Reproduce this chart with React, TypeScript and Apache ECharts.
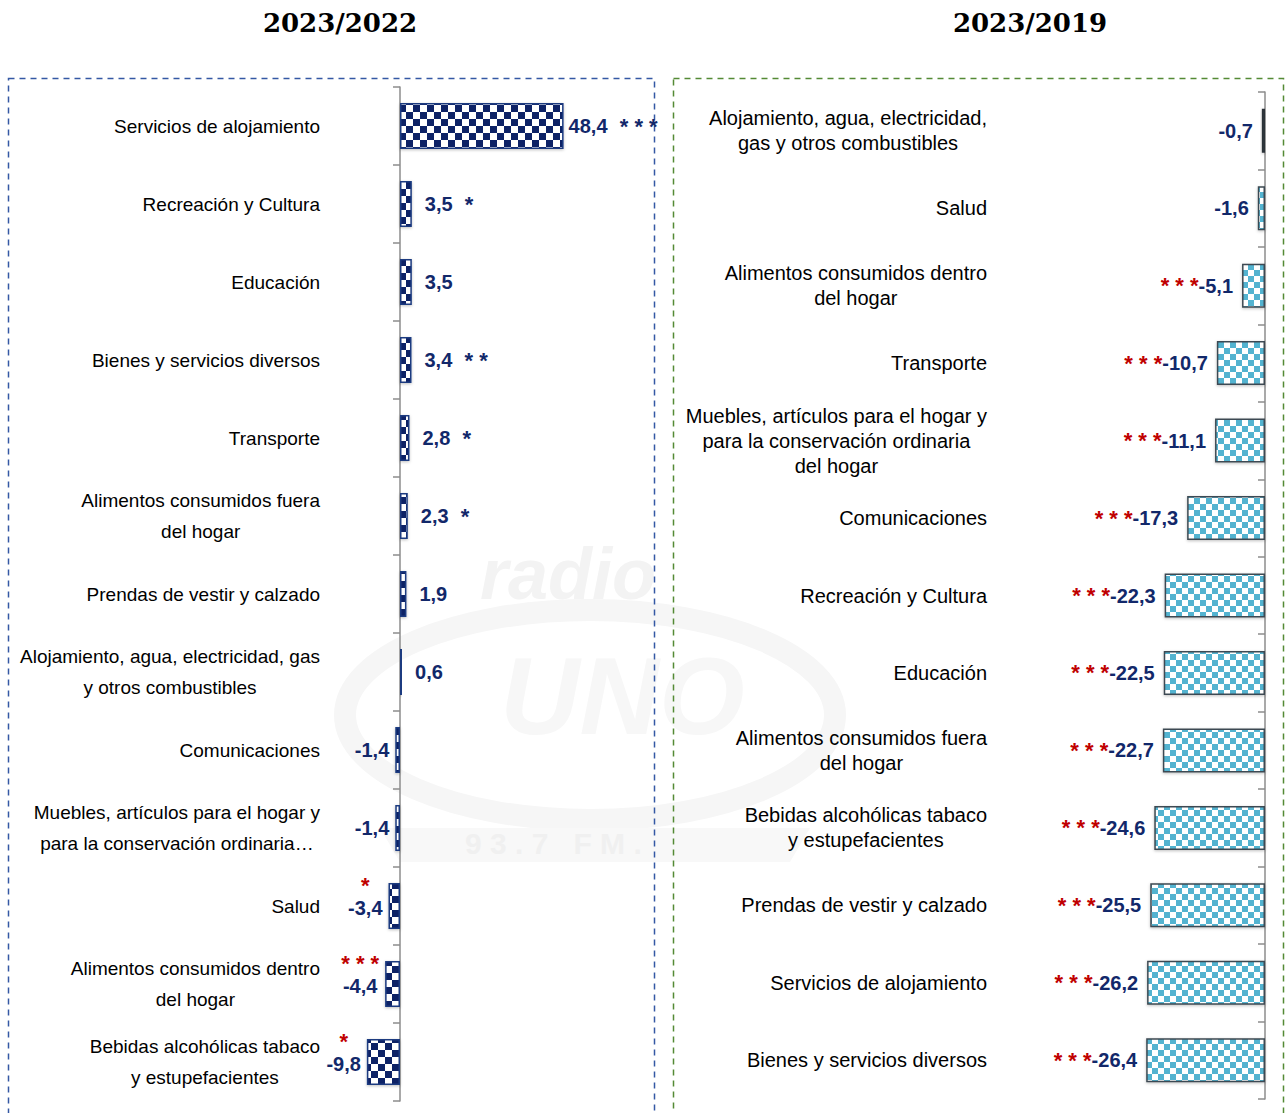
import React, { useEffect, useRef } from "react";
import * as echarts from "echarts";

// ---- Data: 2023/2022 (left panel) ----
const leftCategories = [
  "Servicios de alojamiento",
  "Recreación y Cultura",
  "Educación",
  "Bienes y servicios diversos",
  "Transporte",
  "Alimentos consumidos fuera\ndel hogar",
  "Prendas de vestir y calzado",
  "Alojamiento, agua, electricidad, gas\ny otros combustibles",
  "Comunicaciones",
  "Muebles, artículos para el hogar y\npara la conservación ordinaria…",
  "Salud",
  "Alimentos consumidos dentro\ndel hogar",
  "Bebidas alcohólicas tabaco\ny estupefacientes",
];
const leftValues = [48.4, 3.5, 3.5, 3.4, 2.8, 2.3, 1.9, 0.6, -1.4, -1.4, -3.4, -4.4, -9.8];
const leftStars = ["***", "*", "", "**", "*", "*", "", "", "", "", "*", "***", "*"];

// ---- Data: 2023/2019 (right panel) ----
const rightCategories = [
  "Alojamiento, agua, electricidad,\ngas y otros combustibles",
  "Salud",
  "Alimentos consumidos dentro\ndel hogar",
  "Transporte",
  "Muebles, artículos para el hogar y\npara la conservación ordinaria\ndel hogar",
  "Comunicaciones",
  "Recreación y Cultura",
  "Educación",
  "Alimentos consumidos fuera\ndel hogar",
  "Bebidas alcohólicas tabaco\ny estupefacientes",
  "Prendas de vestir y calzado",
  "Servicios de alojamiento",
  "Bienes y servicios diversos",
];
const rightValues = [-0.7, -1.6, -5.1, -10.7, -11.1, -17.3, -22.3, -22.5, -22.7, -24.6, -25.5, -26.2, -26.4];
const rightStars = ["", "", "***", "***", "***", "***", "***", "***", "***", "***", "***", "***", "***"];

const titles = ["2023/2022", "2023/2019"];

const NAVY = "#12286a";
const RED = "#c00000";
const SANS = "'Liberation Sans', Arial, sans-serif";

function checker(cell: number, dark: string, light: string) {
  const c = document.createElement("canvas");
  c.width = cell * 2;
  c.height = cell * 2;
  const ctx = c.getContext("2d")!;
  ctx.fillStyle = light;
  ctx.fillRect(0, 0, cell * 2, cell * 2);
  ctx.fillStyle = dark;
  ctx.fillRect(0, 0, cell, cell);
  ctx.fillRect(cell, cell, cell, cell);
  return { image: c, repeat: "repeat", imageWidth: cell * 2, imageHeight: cell * 2 } as any;
}

const fmt = (v: number) => v.toFixed(1).replace(".", ",");
const spaced = (s: string) => s.split("").join(" ");

// grid geometry
const L_LEFT = 366.2;
const L_WIDTH = 202.8;
const R_LEFT = 1130;
const R_WIDTH = 135;

export default function App() {
  const ref = useRef<HTMLDivElement>(null);

  useEffect(() => {
    const chart = echarts.init(ref.current!, null, { renderer: "svg" });

    const navyPattern = checker(7, "#0d2466", "#ffffff");
    const bluePattern = checker(6, "#52b3d0", "#ffffff");

    const leftData = leftValues.map((v, i) => {
      const st = leftStars[i];
      if (v >= 0) {
        return {
          value: v,
          label: {
            position: "right",
            distance: v > 40 ? 5 : 13,
            formatter: st ? `{v|${fmt(v)}}{s|  ${spaced(st)}}` : `{v|${fmt(v)}}`,
          },
        };
      }
      return {
        value: v,
        label: {
          position: "left",
          distance: 6,
          offset: st ? [0, -9] : [0, 0],
          formatter: st ? `{r|${spaced(st)}}\n{v|${fmt(v)}}` : `{v|${fmt(v)}}`,
        },
      };
    });

    const rightData = rightValues.map((v, i) => {
      const st = rightStars[i];
      return {
        value: v,
        itemStyle: i === 0 ? { color: "#3b444c", borderColor: "#2c3238" } : undefined,
        label: {
          position: "left",
          distance: 9,
          formatter: st ? `{r|${spaced(st)}}{v|${fmt(v)}}` : `{v|${fmt(v)}}`,
        },
      };
    });

    const catFormatter = (val: string) =>
      val
        .split("\n")
        .map((l) => `{c|${l}}`)
        .join("\n");

    const titleStyle = { fontFamily: "'DejaVu Serif', serif", fontWeight: "bold", fontSize: 26, color: "#000" };

    const option: any = {
      animation: false,
      backgroundColor: "#ffffff",
      title: [
        { text: titles[0], left: 335, top: 5, textAlign: "center", textStyle: titleStyle },
        { text: titles[1], left: 1025, top: 5, textAlign: "center", textStyle: titleStyle },
      ],
      graphic: [
        // faint watermark
        {
          type: "group",
          silent: true,
          z: -10,
          children: [
            {
              type: "ellipse",
              shape: { cx: 590, cy: 715, rx: 245, ry: 105 },
              style: { fill: "none", stroke: "#f6f6f6", lineWidth: 22 },
            },
            {
              type: "text",
              x: 480,
              y: 538,
              style: { text: "radio", font: "italic bold 72px 'Liberation Sans', sans-serif", fill: "#f3f3f3" },
            },
            {
              type: "text",
              x: 500,
              y: 640,
              style: { text: "UNO", font: "italic bold 110px 'Liberation Sans', sans-serif", fill: "#f7f7f7" },
            },
            {
              type: "polygon",
              shape: { points: [[380, 828], [810, 828], [790, 862], [400, 862]] },
              style: { fill: "#f8f8f8" },
            },
            {
              type: "text",
              x: 465,
              y: 828,
              style: { text: "9 3 . 7   F M .", font: "bold 30px 'Liberation Sans', sans-serif", fill: "#f0f0f0" },
            },
          ],
        },
        {
          type: "rect",
          silent: true,
          shape: { x: 8.5, y: 78.5, width: 646, height: 1060 },
          style: { fill: "none", stroke: "#3458a4", lineWidth: 1.5, lineDash: [6, 5] },
        },
        {
          type: "rect",
          silent: true,
          shape: { x: 673.5, y: 78.5, width: 610, height: 1060 },
          style: { fill: "none", stroke: "#548a35", lineWidth: 1.5, lineDash: [6, 5] },
        },
      ],
      grid: [
        { left: L_LEFT, width: L_WIDTH, top: 87, height: 1014, outerBoundsMode: "none", containLabel: false },
        { left: R_LEFT, width: R_WIDTH, top: 92, height: 1007, outerBoundsMode: "none", containLabel: false },
      ],
      xAxis: [
        { type: "value", gridIndex: 0, min: -10, max: 50, show: false },
        { type: "value", gridIndex: 1, min: -30, max: 0, show: false },
      ],
      yAxis: [
        {
          type: "category",
          gridIndex: 0,
          inverse: true,
          data: leftCategories,
          axisLine: { show: true, onZero: true, lineStyle: { color: "#8c8c8c", width: 1.5 } },
          axisTick: { show: true, length: 7, lineStyle: { color: "#8c8c8c", width: 1.5 } },
          splitLine: { show: false },
          axisLabel: {
            margin: L_LEFT - 320,
            formatter: catFormatter,
            rich: {
              c: { align: "center", fontFamily: SANS, fontSize: 19, color: "#000", lineHeight: 31 },
            },
          },
        },
        {
          type: "category",
          gridIndex: 1,
          inverse: true,
          data: rightCategories,
          axisLine: { show: true, onZero: true, lineStyle: { color: "#8c8c8c", width: 1.5 } },
          axisTick: { show: true, length: 7, lineStyle: { color: "#8c8c8c", width: 1.5 } },
          splitLine: { show: false },
          axisLabel: {
            margin: R_LEFT - 987,
            formatter: catFormatter,
            rich: {
              c: { align: "center", fontFamily: SANS, fontSize: 20, color: "#000", lineHeight: 25 },
            },
          },
        },
      ],
      series: [
        {
          type: "bar",
          xAxisIndex: 0,
          yAxisIndex: 0,
          barWidth: 46,
          data: leftData,
          itemStyle: { color: navyPattern, borderColor: "#1c3a80", borderWidth: 1.5, shadowColor: "rgba(0,0,0,0.25)", shadowBlur: 3, shadowOffsetY: 1 },
          label: {
            show: true,
            rich: {
              v: { fontFamily: SANS, fontWeight: "bold", fontSize: 20, color: NAVY, align: "center", lineHeight: 24 },
              s: { fontFamily: SANS, fontWeight: "bold", fontSize: 22, color: NAVY },
              r: { fontFamily: SANS, fontWeight: "bold", fontSize: 22, color: RED, align: "center", lineHeight: 22 },
            },
          },
        },
        {
          type: "bar",
          xAxisIndex: 1,
          yAxisIndex: 1,
          barWidth: 44,
          data: rightData,
          itemStyle: { color: bluePattern, borderColor: "#3e4a52", borderWidth: 1.5, shadowColor: "rgba(0,0,0,0.25)", shadowBlur: 3, shadowOffsetY: 1 },
          label: {
            show: true,
            rich: {
              v: { fontFamily: SANS, fontWeight: "bold", fontSize: 20, color: NAVY },
              r: { fontFamily: SANS, fontWeight: "bold", fontSize: 22, color: RED },
            },
          },
        },
      ],
    };

    chart.setOption(option);
    return () => chart.dispose();
  }, []);

  return (
    <div
      ref={ref}
      style={{ position: "absolute", left: 0, top: 0, width: 1286, height: 1113, background: "#fff" }}
    />
  );
}
